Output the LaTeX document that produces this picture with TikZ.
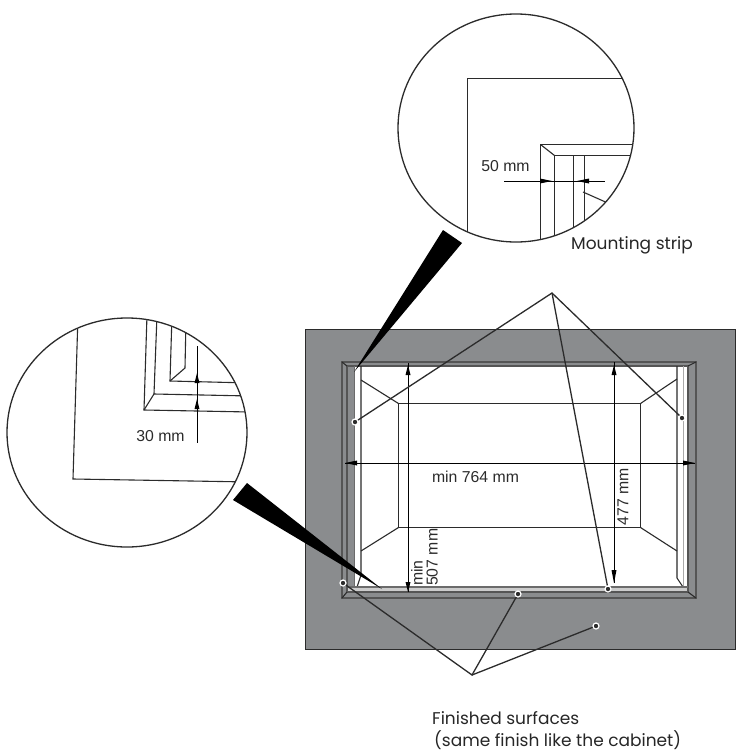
\documentclass[tikz,border=0pt]{standalone}
\usepackage{fontspec}
\usepackage{xcolor}
\setmainfont{Liberation Sans}
\newfontfamily\labelfont{Poppins}
\definecolor{panel_grey}{HTML}{8A8C8E}
\definecolor{line_dark}{HTML}{2B2B2B}
\tikzset{
  dimtext/.style={font=\fontsize{15.8}{15}\selectfont, text=line_dark, inner sep=0pt, align=left},
  calltext/.style={font=\labelfont\fontsize{17}{22}\selectfont, text=black!85, inner sep=0pt, align=left, anchor=west},
  thin_line/.style={line_dark, line width=1.1pt},
  dim_line/.style={black, line width=1pt},
  dim_tip/.style={black, fill=black},
  leader/.style={line_dark, line width=1.3pt},
  spot/.style={circle, draw=white, fill=line_dark, line width=1.2pt, minimum size=6pt, inner sep=0pt},
}
\begin{document}
\begin{tikzpicture}[x=1pt,y=-1pt]
    \useasboundingbox (0,0) rectangle (739,756);
    % Panel
    \fill[panel_grey] (305,329) rectangle (735,649);
    \draw[line_dark, line width=0.9pt] (305,329) rectangle (735,649);
    % Opening
    \fill[white] (354,365) rectangle (688,587);
    \fill[black!20] (348,587) rectangle (688,592);
    \draw[line_dark!80, line width=1.3pt] (342,362) rectangle (696,598);
    \draw[line_dark!80, line width=1.1pt] (347,366) -- (688,366) -- (688,592) -- (347,592) -- cycle;
    \draw[thin_line] (342,362) -- (347,366) (696,362) -- (688,366) (342,598) -- (347,592) (696,598) -- (688,592);
    \draw[thin_line, line_dark!70] (354.5,366) -- (354.5,587);
    \draw[thin_line] (361,366) -- (361,575) -- (357,587) (677,366) -- (677,578) -- (683,587);
    \draw[line_dark!40, line width=1pt] (683,366) -- (683,587);
    \draw[line_dark!70, line width=1.1pt] (348,587) -- (688,587);
    % Back wall
    \draw[thin_line] (398.5,403.5) rectangle (640.5,527.5);
    \draw[thin_line] (361,380) -- (398.5,403.5) (677,379) -- (640.5,403.5) (361,551) -- (398.5,527.5) (677,551) -- (640.5,527.5);
    % Dimensions
    \draw[dim_line] (345,463) -- (695,463);
    \fill[dim_tip] (345,463) -- (357,460.5) -- (357,465.5) -- cycle;
    \fill[dim_tip] (695,463) -- (683,460.5) -- (683,465.5) -- cycle;
    \draw[dim_line] (408,363) -- (408,592);
    \fill[dim_tip] (408,365) -- (405.5,375) -- (410.5,375) -- cycle;
    \fill[dim_tip] (408,592) -- (405.5,582) -- (410.5,582) -- cycle;
    \draw[dim_line] (614,362) -- (614,583);
    \fill[dim_tip] (614,365) -- (611.5,375) -- (616.5,375) -- cycle;
    \fill[dim_tip] (614,583) -- (611.5,570) -- (616.5,570) -- cycle;
    \node[dimtext] (wlabel) at (475.5,477) {min 764 mm};
    \node[dimtext, rotate=90, anchor=west] (hlabel) at (424.5,586) {min\\507 mm};
    \node[dimtext, rotate=90, anchor=center] (dlabel) at (623,497) {477 mm};
    % Pointer wedges
    \fill[black] (354,372) -- (443,230) -- (462,243) -- cycle;
    \fill[black] (382,589) -- (247,483) -- (233,500) -- cycle;
    % Detail top
    \draw[line_dark, line width=1.3pt, fill=white] (516,128) ellipse (118 and 114);
    \begin{scope}
        \clip (516,128) ellipse (118 and 114);
        \draw[thin_line] (467.5,240) -- (467.5,78.5) -- (640,78.5);
        \draw[thin_line] (540.5,240) -- (540.5,144.5) -- (640,144.5);
        \draw[thin_line] (554.5,240) -- (554.5,155.5) -- (640,155.5);
        \draw[thin_line] (540.5,144.5) -- (554.5,155.5);
        \draw[thin_line] (573.5,155) -- (573.5,240) (584.5,155) -- (584.5,240);
        \draw[thin_line] (583,192) -- (610,204);
    \end{scope}
    \draw[dim_line] (504,181) -- (605,181);
    \fill[dim_tip] (552,181) -- (540,178.5) -- (540,183.5) -- cycle;
    \fill[dim_tip] (577,181) -- (589,178.5) -- (589,183.5) -- cycle;
    \node[dimtext] (toplabel) at (505.5,166) {50 mm};
    % Detail left
    \draw[line_dark, line width=1.3pt, fill=white] (127,432.5) ellipse (120 and 114.5);
    \begin{scope}
        \clip (127,432.5) ellipse (120 and 114.5);
        \draw[thin_line] (78,315) -- (73,479) -- (250,482);
        \draw[thin_line] (147,315) -- (144,410) -- (250,412);
        \draw[thin_line] (157,315) -- (154,394) -- (250,396);
        \draw[thin_line] (144,410) -- (154,394);
        \draw[thin_line] (172,315) -- (170,381) -- (250,383);
        \draw[thin_line] (186,320) -- (185,368) -- (170,381);
    \end{scope}
    \draw[dim_line] (197,346) -- (197,443);
    \fill[dim_tip] (197,373) -- (194.5,383) -- (199.5,383) -- cycle;
    \fill[dim_tip] (197,399) -- (194.5,409) -- (199.5,409) -- cycle;
    \node[dimtext] (leftlabel) at (160.5,436) {30 mm};
    % Call-outs
    \node[calltext] (strip) at (571,245) {Mounting strip};
    \node[calltext] (finish) at (432,731) {Finished surfaces\\\hspace*{2pt}(same finish like the cabinet)};
    \coordinate (topjoin) at (552,293);
    \coordinate (lowjoin) at (472,675);
    \node[spot] (topa) at (355,422) {};
    \node[spot] (topb) at (682,418) {};
    \node[spot] (topc) at (608,589) {};
    \node[spot] (lowa) at (343,583) {};
    \node[spot] (lowb) at (518,594) {};
    \node[spot] (lowc) at (596,626) {};
    \draw[leader] (topa) -- (topjoin) -- (topb);
    \draw[leader] (topjoin) -- (topc);
    \draw[leader] (lowa) -- (lowjoin) -- (lowb);
    \draw[leader] (lowjoin) -- (lowc);
\end{tikzpicture}
\end{document}
